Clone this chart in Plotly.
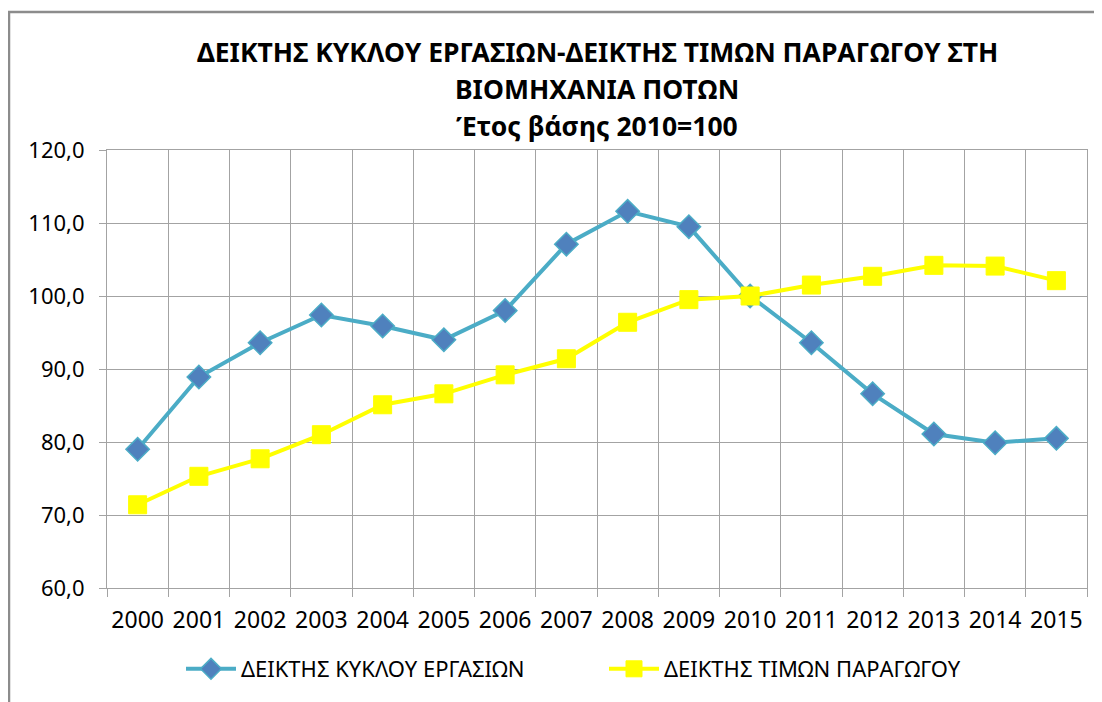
import plotly.graph_objects as go

# Έτη (κατηγορίες άξονα x)
years = [str(y) for y in range(2000, 2016)]

# Δείκτης κύκλου εργασιών (2010=100)
turnover_index = [79.0, 88.9, 93.6, 97.4, 95.9, 94.0, 98.0, 107.1,
                  111.6, 109.5, 100.0, 93.6, 86.6, 81.1, 79.9, 80.5]

# Δείκτης τιμών παραγωγού (2010=100)
producer_price_index = [71.4, 75.3, 77.7, 81.0, 85.1, 86.6, 89.2, 91.4,
                        96.4, 99.5, 100.0, 101.5, 102.7, 104.2, 104.1, 102.1]

title_lines = ["ΔΕΙΚΤΗΣ ΚΥΚΛΟΥ ΕΡΓΑΣΙΩΝ-ΔΕΙΚΤΗΣ ΤΙΜΩΝ ΠΑΡΑΓΩΓΟΥ ΣΤΗ",
               "ΒΙΟΜΗΧΑΝΙΑ ΠΟΤΩΝ",
               "Έτος βάσης 2010=100"]

FONT = "Noto Sans, DejaVu Sans, sans-serif"
GRID = "#A3A3A3"

# η σελίδα έχει περιθώριο 8px, οπότε το σχήμα είναι 8px μικρότερο
W, H = 1094, 694
L, R, T, B = 99, 15, 142, 114
plot_w = W - L - R
plot_h = H - T - B

fig = go.Figure()

fig.add_trace(go.Scatter(
    x=years, y=turnover_index,
    name="ΔΕΙΚΤΗΣ ΚΥΚΛΟΥ ΕΡΓΑΣΙΩΝ",
    mode="lines+markers",
    line=dict(color="#4BACC6", width=4),
    marker=dict(symbol="diamond", size=18, color="#4F81BD",
                line=dict(color="#4BACC6", width=1.5)),
))

fig.add_trace(go.Scatter(
    x=years, y=producer_price_index,
    name="ΔΕΙΚΤΗΣ ΤΙΜΩΝ ΠΑΡΑΓΩΓΟΥ",
    mode="lines+markers",
    line=dict(color="#FFFF00", width=4),
    marker=dict(symbol="square", size=18, color="#FFFF00",
                line=dict(color="#FFFF00", width=1)),
))

# τίτλος σε τρεις γραμμές, όπως στο Excel
for i, txt in enumerate(title_lines):
    fig.add_annotation(
        text=f"<b>{txt}</b>", xref="paper", yref="paper",
        x=0.5, y=1 + (98 - 37 * i) / plot_h, xanchor="center", yanchor="middle",
        showarrow=False, font=dict(family=FONT, size=26.5, color="black"),
    )

# πλαίσιο γραφήματος (φαίνεται μόνο η αριστερή και η πάνω πλευρά)
fig.add_shape(type="rect", xref="paper", yref="paper",
              x0=-98 / plot_w, x1=1.2, y0=-0.5, y1=1 + 138 / plot_h,
              line=dict(color="#8C8C8C", width=2.5))

fig.update_layout(
    width=W, height=H,
    margin=dict(l=L, r=R, t=T, b=B, autoexpand=False),
    paper_bgcolor="white", plot_bgcolor="white",
    separators=",.",
    font=dict(family=FONT, size=20, color="black"),
    showlegend=True,
    legend=dict(orientation="h", x=74 / plot_w, xanchor="left",
                y=-81 / plot_h, yanchor="middle",
                font=dict(size=22), itemwidth=50, entrywidth=358,
                traceorder="normal"),
    xaxis=dict(
        type="category", tickson="boundaries", automargin=False,
        range=[-0.5, len(years) - 0.5],
        showgrid=True, gridcolor=GRID, gridwidth=1,
        ticks="outside", ticklen=8, tickcolor=GRID,
        showline=True, linecolor=GRID, mirror=True,
        tickangle=0, tickfont=dict(size=23), ticklabelstandoff=11,
    ),
    yaxis=dict(
        range=[60, 120], dtick=10, tickformat=".1f", automargin=False,
        showgrid=True, gridcolor=GRID, gridwidth=1,
        ticks="outside", ticklen=7, tickcolor=GRID,
        showline=True, linecolor=GRID, mirror=True,
        zeroline=False, tickfont=dict(size=22), ticklabelstandoff=10,
    ),
)

fig.write_html("out.html")
